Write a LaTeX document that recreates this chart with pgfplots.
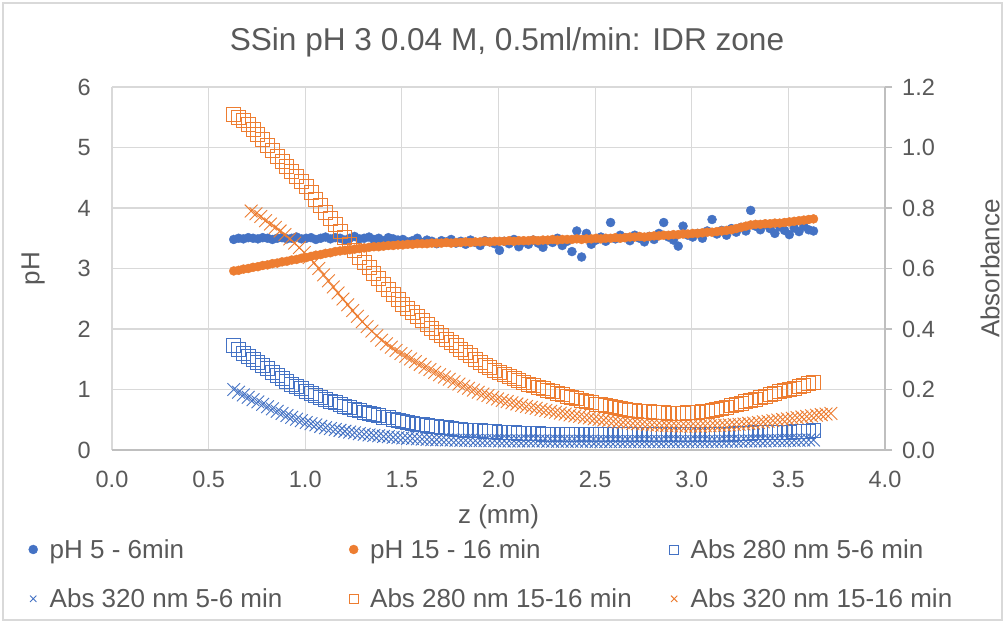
\documentclass[border=0pt]{standalone}
\usepackage{pgfplots}
\pgfplotsset{compat=1.18}
\usepackage{pgfplotstable}
\usepackage{fontspec}
\setmainfont{Liberation Sans}
\definecolor{exblue}{HTML}{4472C4}
\definecolor{exorange}{HTML}{ED7D31}
\definecolor{gridc}{HTML}{D9D9D9}
\definecolor{axc}{HTML}{BFBFBF}
\definecolor{txt}{HTML}{595959}

\pgfplotstableread{
x pha phb sa xa sb
0.630 3.48 2.96 0.347 0.200 1.110
0.655 3.50 2.97 0.334 0.191 1.100
0.680 3.49 2.99 0.320 0.182 1.089
0.705 3.51 3.00 0.308 0.174 1.077
0.730 3.50 3.02 0.298 0.166 1.060
0.755 3.49 3.03 0.288 0.159 1.043
0.780 3.51 3.05 0.278 0.151 1.025
0.805 3.50 3.06 0.268 0.143 1.007
0.830 3.48 3.08 0.257 0.136 0.989
0.855 3.50 3.09 0.247 0.128 0.972
0.880 3.51 3.11 0.236 0.121 0.954
0.905 3.49 3.12 0.226 0.114 0.937
0.930 3.50 3.14 0.218 0.108 0.920
0.955 3.52 3.15 0.210 0.102 0.904
0.980 3.49 3.17 0.202 0.097 0.888
1.005 3.50 3.18 0.194 0.091 0.871
1.030 3.51 3.20 0.187 0.087 0.850
1.055 3.48 3.22 0.181 0.083 0.829
1.080 3.50 3.23 0.174 0.078 0.807
1.105 3.52 3.25 0.167 0.074 0.786
1.130 3.49 3.26 0.162 0.071 0.765
1.155 3.51 3.28 0.156 0.068 0.744
1.180 3.50 3.29 0.151 0.065 0.722
1.205 3.47 3.30 0.145 0.062 0.701
1.230 3.50 3.31 0.140 0.059 0.680
1.255 3.53 3.32 0.135 0.057 0.659
1.280 3.49 3.33 0.130 0.054 0.638
1.305 3.50 3.34 0.125 0.052 0.621
1.330 3.52 3.35 0.121 0.050 0.603
1.355 3.48 3.36 0.117 0.048 0.584
1.380 3.50 3.36 0.113 0.047 0.566
1.405 3.46 3.37 0.109 0.045 0.547
1.430 3.51 3.38 0.106 0.044 0.530
1.455 3.49 3.38 0.102 0.042 0.514
1.480 3.47 3.39 0.098 0.041 0.498
1.505 3.48 3.39 0.095 0.040 0.482
1.530 3.44 3.40 0.092 0.039 0.468
1.555 3.46 3.40 0.089 0.038 0.454
1.580 3.50 3.41 0.086 0.037 0.440
1.605 3.43 3.41 0.084 0.036 0.427
1.630 3.47 3.41 0.082 0.035 0.415
1.655 3.45 3.42 0.079 0.034 0.402
1.680 3.41 3.42 0.077 0.034 0.390
1.705 3.46 3.42 0.075 0.034 0.378
1.730 3.44 3.43 0.073 0.033 0.367
1.755 3.48 3.42 0.071 0.033 0.355
1.780 3.42 3.43 0.069 0.032 0.344
1.805 3.45 3.43 0.068 0.032 0.333
1.830 3.40 3.44 0.066 0.032 0.322
1.855 3.47 3.43 0.065 0.032 0.311
1.880 3.43 3.44 0.064 0.031 0.300
1.905 3.38 3.44 0.063 0.031 0.290
1.930 3.46 3.45 0.062 0.031 0.281
1.955 3.44 3.44 0.061 0.031 0.272
1.980 3.41 3.45 0.060 0.031 0.264
2.005 3.30 3.45 0.059 0.030 0.256
2.030 3.45 3.45 0.058 0.030 0.250
2.055 3.41 3.46 0.057 0.030 0.243
2.080 3.48 3.45 0.057 0.030 0.236
2.105 3.36 3.46 0.056 0.030 0.229
2.130 3.44 3.46 0.055 0.030 0.223
2.155 3.40 3.46 0.055 0.030 0.217
2.180 3.47 3.47 0.054 0.030 0.212
2.205 3.42 3.46 0.054 0.030 0.207
2.230 3.35 3.47 0.053 0.030 0.202
2.255 3.46 3.47 0.053 0.029 0.197
2.280 3.43 3.48 0.052 0.029 0.192
2.305 3.50 3.47 0.052 0.029 0.187
2.330 3.38 3.48 0.052 0.029 0.183
2.355 3.45 3.48 0.051 0.029 0.178
2.380 3.28 3.48 0.051 0.029 0.174
2.405 3.62 3.49 0.051 0.029 0.169
2.430 3.19 3.48 0.051 0.029 0.165
2.455 3.58 3.49 0.050 0.029 0.160
2.480 3.40 3.49 0.050 0.029 0.156
2.505 3.47 3.50 0.050 0.028 0.152
2.530 3.52 3.49 0.050 0.028 0.149
2.555 3.45 3.50 0.050 0.028 0.146
2.580 3.76 3.50 0.050 0.028 0.143
2.605 3.49 3.51 0.050 0.028 0.140
2.630 3.55 3.50 0.050 0.028 0.137
2.655 3.51 3.51 0.050 0.028 0.135
2.680 3.46 3.52 0.050 0.028 0.132
2.705 3.55 3.52 0.050 0.028 0.130
2.730 3.50 3.53 0.050 0.028 0.128
2.755 3.44 3.52 0.050 0.028 0.127
2.780 3.53 3.53 0.050 0.028 0.126
2.805 3.48 3.54 0.050 0.028 0.125
2.830 3.58 3.54 0.050 0.028 0.124
2.855 3.76 3.55 0.050 0.028 0.123
2.880 3.52 3.55 0.050 0.028 0.122
2.905 3.47 3.56 0.050 0.028 0.122
2.930 3.37 3.56 0.050 0.028 0.122
2.955 3.70 3.57 0.050 0.028 0.122
2.980 3.55 3.57 0.050 0.028 0.123
3.005 3.52 3.58 0.051 0.028 0.123
3.030 3.58 3.58 0.051 0.028 0.125
3.055 3.50 3.59 0.051 0.028 0.127
3.080 3.62 3.60 0.051 0.028 0.129
3.105 3.81 3.60 0.051 0.028 0.131
3.130 3.57 3.61 0.053 0.028 0.134
3.155 3.63 3.62 0.053 0.029 0.138
3.180 3.55 3.63 0.053 0.029 0.142
3.205 3.66 3.64 0.053 0.029 0.146
3.230 3.60 3.66 0.055 0.029 0.150
3.255 3.68 3.68 0.055 0.029 0.155
3.280 3.62 3.70 0.055 0.030 0.159
3.305 3.96 3.72 0.055 0.030 0.164
3.330 3.70 3.73 0.057 0.030 0.168
3.355 3.64 3.73 0.057 0.030 0.173
3.380 3.73 3.74 0.057 0.030 0.178
3.405 3.66 3.74 0.057 0.031 0.183
3.430 3.58 3.75 0.059 0.031 0.187
3.455 3.69 3.75 0.059 0.031 0.192
3.480 3.63 3.76 0.059 0.031 0.196
3.505 3.56 3.77 0.059 0.032 0.201
3.530 3.67 3.78 0.062 0.032 0.205
3.555 3.61 3.79 0.062 0.032 0.210
3.580 3.70 3.80 0.062 0.033 0.214
3.605 3.64 3.81 0.062 0.033 0.219
3.630 3.62 3.82 0.064 0.033 0.224
}\tabA

\pgfplotstableread{
x xb
0.720 0.790
0.745 0.781
0.770 0.772
0.795 0.758
0.820 0.747
0.845 0.736
0.870 0.724
0.895 0.712
0.920 0.698
0.945 0.684
0.970 0.669
0.995 0.653
1.020 0.636
1.045 0.619
1.070 0.600
1.095 0.579
1.120 0.559
1.145 0.539
1.170 0.519
1.195 0.499
1.220 0.480
1.245 0.461
1.270 0.442
1.295 0.424
1.320 0.408
1.345 0.393
1.370 0.378
1.395 0.363
1.420 0.351
1.445 0.340
1.470 0.329
1.495 0.319
1.520 0.310
1.545 0.301
1.570 0.292
1.595 0.283
1.620 0.274
1.645 0.266
1.670 0.257
1.695 0.249
1.720 0.241
1.745 0.234
1.770 0.226
1.795 0.218
1.820 0.211
1.845 0.204
1.870 0.198
1.895 0.191
1.920 0.185
1.945 0.180
1.970 0.174
1.995 0.169
2.020 0.164
2.045 0.160
2.070 0.156
2.095 0.152
2.120 0.148
2.145 0.144
2.170 0.141
2.195 0.138
2.220 0.134
2.245 0.131
2.270 0.128
2.295 0.125
2.320 0.122
2.345 0.119
2.370 0.116
2.395 0.113
2.420 0.111
2.445 0.108
2.470 0.106
2.495 0.103
2.520 0.101
2.545 0.099
2.570 0.097
2.595 0.095
2.620 0.093
2.645 0.091
2.670 0.090
2.695 0.088
2.720 0.087
2.745 0.086
2.770 0.084
2.795 0.083
2.820 0.082
2.845 0.081
2.870 0.081
2.895 0.080
2.920 0.080
2.945 0.079
2.970 0.079
2.995 0.079
3.020 0.079
3.045 0.079
3.070 0.080
3.095 0.080
3.120 0.081
3.145 0.081
3.170 0.082
3.195 0.083
3.220 0.084
3.245 0.085
3.270 0.086
3.295 0.088
3.320 0.089
3.345 0.091
3.370 0.093
3.395 0.095
3.420 0.097
3.445 0.099
3.470 0.101
3.495 0.103
3.520 0.105
3.545 0.107
3.570 0.109
3.595 0.111
3.620 0.113
3.645 0.115
3.670 0.117
3.695 0.119
3.720 0.121
}\tabB

\newcommand{\tfont}{\fontsize{23.5bp}{28bp}\selectfont}
\newcommand{\lfont}{\fontsize{26bp}{31bp}\selectfont}
\newcommand{\legtxt}[1]{\makebox[293.5bp][l]{#1}}

\begin{document}
\begin{tikzpicture}
\useasboundingbox (-112bp,-173bp) rectangle (893bp,450bp);
\fill[white] (-112bp,-173bp) rectangle (893bp,450bp);
\draw[gridc, line width=1.3bp] (-109bp,-170bp) rectangle (890bp,447bp);

\begin{axis}[
  scale only axis, width=773bp, height=363bp,
  xmin=0, xmax=4, ymin=0, ymax=6,
  xtick={0,0.5,1,1.5,2,2.5,3,3.5,4},
  ytick={0,1,2,3,4,5,6},
  grid=major, grid style={gridc, line width=1.2bp},
  axis x line*=bottom, axis y line*=left,
  x axis line style={axc, line width=1.3bp, -},
  y axis line style={draw=none},
  major tick length=0pt,
  tick label style={font=\tfont, text=txt},
  /pgf/number format/assume math mode=true,
  xticklabel style={/pgf/number format/fixed, /pgf/number format/fixed zerofill, /pgf/number format/precision=1, anchor=north, inner sep=0pt, yshift=-21bp},
  yticklabel style={anchor=east, inner sep=0pt, xshift=-21bp},
  xlabel={z (mm)},
  xlabel style={font=\lfont, text=txt, at={(axis description cs:0.5,-0.185)}, anchor=center},
  ylabel={pH},
  ylabel style={font=\lfont, text=txt, at={(axis description cs:-0.102,0.5)}, anchor=center},
  title={SSin pH 3 0.04 M, 0.5ml/min: IDR zone},
  title style={font=\fontsize{31.6bp}{36bp}\selectfont, text=txt, at={(axis description cs:0.511,1.107)}, anchor=center},
]
\addplot[only marks, mark=*, exblue, mark size=4.5bp] table[x=x, y=pha] {\tabA};
\addplot[only marks, mark=*, exorange, mark size=4.5bp] table[x=x, y=phb] {\tabA};
\end{axis}

\begin{axis}[
  scale only axis, width=773bp, height=363bp,
  xmin=0, xmax=4, ymin=0, ymax=1.2,
  axis x line=none, axis y line*=right,
  ytick={0,0.2,0.4,0.6,0.8,1.0,1.2},
  y axis line style={axc, line width=1.3bp, -},
  ytick style={axc, line width=1.3bp},
  tick align=outside, major tick length=7bp,
  tick label style={font=\tfont, text=txt},
  /pgf/number format/assume math mode=true,
  yticklabel style={/pgf/number format/fixed, /pgf/number format/fixed zerofill, /pgf/number format/precision=1, anchor=west, inner sep=0pt, xshift=10bp},
  ylabel={Absorbance},
  ylabel style={font=\lfont, text=txt, at={(axis description cs:1.136,0.5)}, anchor=center},
  legend image code/.code={\draw[#1, mark size=4.5bp] plot coordinates {(0bp,0bp)};},
  legend columns=3,
  legend cell align=left,
  legend style={draw=none, fill=none, font=\lfont, text=txt, inner sep=0pt,
    at={(axis description cs:-0.108,-0.240)}, anchor=north west,
    row sep=25bp,
    /tikz/every odd column/.append style={column sep=10bp},
    /tikz/every even column/.append style={column sep=4bp}},
]
\addlegendimage{only marks, mark=*, exblue}
\addlegendentry{\legtxt{pH 5 - 6min}}
\addlegendimage{only marks, mark=*, exorange}
\addlegendentry{\legtxt{pH 15 - 16 min}}
\addplot[only marks, mark=square, exblue, mark size=7bp, mark options={line width=0.9bp}] table[x=x, y=sa] {\tabA};
\addlegendentry{\legtxt{Abs 280 nm 5-6 min}}
\addplot[only marks, mark=x, exblue, mark size=9bp, mark options={line width=0.9bp}] table[x=x, y=xa] {\tabA};
\addlegendentry{\legtxt{Abs 320 nm 5-6 min}}
\addplot[only marks, mark=square, exorange, mark size=7bp, mark options={line width=0.9bp}] table[x=x, y=sb] {\tabA};
\addlegendentry{\legtxt{Abs 280 nm 15-16 min}}
\addplot[only marks, mark=x, exorange, mark size=9bp, mark options={line width=0.9bp}] table[x=x, y=xb] {\tabB};
\addlegendentry{\legtxt{Abs 320 nm 15-16 min}}
\end{axis}
\end{tikzpicture}
\end{document}
